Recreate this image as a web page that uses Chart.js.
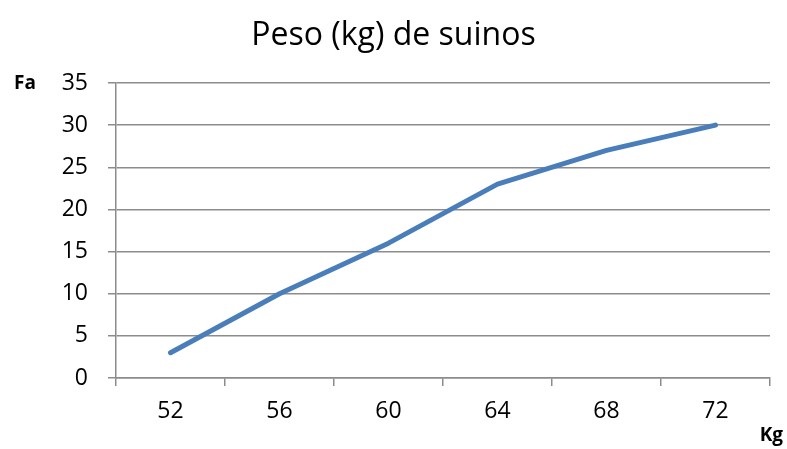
<!DOCTYPE html>
<html>
<head>
<meta charset="utf-8">
<script src="https://cdn.jsdelivr.net/npm/chart.js@4/dist/chart.umd.min.js"></script>
<style>
  html, body { margin: 0; padding: 0; background: #fff; }
  #wrap { width: 787px; height: 449px; }
</style>
</head>
<body>
<div id="wrap"><canvas id="chart"></canvas></div>
<script>
const categories = ['52', '56', '60', '64', '68', '72'];
const fa = [3, 10, 16, 23, 27, 30];

const FONT = "'Open Sans', 'Liberation Sans', sans-serif";
const GRID = '#8c8c8c';

// axis names sit outside the plot, Excel style
const axisNames = {
  id: 'axisNames',
  afterDraw(chart) {
    const ctx = chart.ctx;
    ctx.save();
    ctx.fillStyle = '#000';
    ctx.font = `bold 19px ${FONT}`;
    ctx.textBaseline = 'middle';
    ctx.textAlign = 'left';
    ctx.fillText('Fa', 14, 84);
    ctx.textAlign = 'right';
    ctx.fillText('Kg', 783, 436);
    ctx.restore();
  },
};

new Chart(document.getElementById('chart'), {
  type: 'line',
  data: {
    labels: categories,
    datasets: [{
      label: 'Fa',
      data: fa,
      borderColor: '#4a7ebb',
      borderWidth: 5,
      borderCapStyle: 'round',
      borderJoinStyle: 'round',
      pointRadius: 0,
      tension: 0,
    }],
  },
  options: {
    responsive: true,
    maintainAspectRatio: false,
    animation: false,
    // equal side padding keeps the title centred on the canvas
    layout: { padding: { left: 17, right: 17, top: 0, bottom: 0 } },
    plugins: {
      legend: { display: false },
      tooltip: { enabled: false },
      title: {
        display: true,
        text: 'Peso (kg) de suinos',
        color: '#000',
        font: { family: FONT, size: 32, weight: 'normal' },
        padding: { top: 17, bottom: 27.6 },
      },
    },
    scales: {
      x: {
        offset: true,
        grid: { offset: true, drawOnChartArea: false, color: GRID, tickLength: 8, lineWidth: 1.5 },
        border: { color: GRID, width: 1.5 },
        ticks: { color: '#000', font: { family: FONT, size: 23 }, padding: 12, maxRotation: 0 },
        afterFit: (s) => { s.height = 449 - 378; },
      },
      y: {
        min: 0,
        max: 35,
        ticks: { stepSize: 5, color: '#000', font: { family: FONT, size: 23 }, padding: 20 },
        grid: { color: GRID, tickLength: 8, lineWidth: 1.5 },
        border: { color: GRID, width: 1.5 },
        afterFit: (s) => { s.width = 116 - 17; },
      },
    },
  },
  plugins: [axisNames],
});
</script>
</body>
</html>
